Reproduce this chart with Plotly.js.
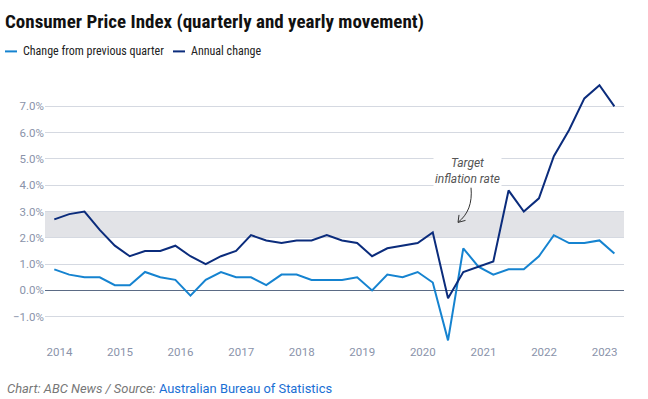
<!DOCTYPE html>
<html>
<head>
<meta charset="utf-8">
<script src="https://cdn.plot.ly/plotly-3.0.1.min.js"></script>
<style>html,body{margin:0;padding:0;background:#fff;}#chart{width:648px;height:399px;}</style>
</head>
<body>
<div id="chart"></div>
<script>
// Quarter dates (Dec 2013 – Mar 2023)
const dates = [
  "2013-12-01","2014-03-01","2014-06-01","2014-09-01","2014-12-01",
  "2015-03-01","2015-06-01","2015-09-01","2015-12-01",
  "2016-03-01","2016-06-01","2016-09-01","2016-12-01",
  "2017-03-01","2017-06-01","2017-09-01","2017-12-01",
  "2018-03-01","2018-06-01","2018-09-01","2018-12-01",
  "2019-03-01","2019-06-01","2019-09-01","2019-12-01",
  "2020-03-01","2020-06-01","2020-09-01","2020-12-01",
  "2021-03-01","2021-06-01","2021-09-01","2021-12-01",
  "2022-03-01","2022-06-01","2022-09-01","2022-12-01",
  "2023-03-01"
];
// Change from previous quarter (%)
const quarterly = [
  0.8, 0.6, 0.5, 0.5, 0.2,
  0.2, 0.7, 0.5, 0.4,
  -0.2, 0.4, 0.7, 0.5,
  0.5, 0.2, 0.6, 0.6,
  0.4, 0.4, 0.4, 0.5,
  0.0, 0.6, 0.5, 0.7,
  0.3, -1.9, 1.6, 0.9,
  0.6, 0.8, 0.8, 1.3,
  2.1, 1.8, 1.8, 1.9,
  1.4
];
// Annual change (%)
const annual = [
  2.7, 2.9, 3.0, 2.3, 1.7,
  1.3, 1.5, 1.5, 1.7,
  1.3, 1.0, 1.3, 1.5,
  2.1, 1.9, 1.8, 1.9,
  1.9, 2.1, 1.9, 1.8,
  1.3, 1.6, 1.7, 1.8,
  2.2, -0.3, 0.7, 0.9,
  1.1, 3.8, 3.0, 3.5,
  5.1, 6.1, 7.3, 7.8,
  7.0
];
const seriesNames = ["Change from previous quarter", "Annual change"];
const yTicks = [-1, 0, 1, 2, 3, 4, 5, 6, 7];
const yTickText = ["\u22121.0%", "0.0%", "1.0%", "2.0%", "3.0%", "4.0%", "5.0%", "6.0%", "7.0%"];
const xTicks = ["2014-01-01","2015-01-01","2016-01-01","2017-01-01","2018-01-01","2019-01-01","2020-01-01","2021-01-01","2022-01-01","2023-01-01"];
const xTickText = ["2014","2015","2016","2017","2018","2019","2020","2021","2022","2023"];
const targetBand = [2, 3];

const C_LIGHT = "#1583d0";
const C_DARK = "#0b2c7c";
const TICK = "#8a93aa";
const FONT = "Roboto, 'Open Sans', sans-serif";
const FONT_C = "'Roboto Condensed', Roboto, sans-serif";

const traces = [
  {x: dates, y: quarterly, name: seriesNames[0], type: "scatter", mode: "lines",
   line: {color: C_LIGHT, width: 2}, hoverinfo: "skip"},
  {x: dates, y: annual, name: seriesNames[1], type: "scatter", mode: "lines",
   line: {color: C_DARK, width: 2}, hoverinfo: "skip"}
];

// pixel helpers for decorations (plot area: l=45, r=624, t=79.6, b=342.6)
const L = 45, R = 624, T = 79.6, B = 342.6;
const px = v => (v - L) / (R - L);
const py = v => (B - v) / (B - T);

const layout = {
  width: 648, height: 399,
  margin: {l: L, r: 648 - R, t: T, b: 399 - B, pad: 0},
  paper_bgcolor: "#fff", plot_bgcolor: "#fff",
  showlegend: false,
  font: {family: FONT, color: TICK, size: 12},
  title: {text: "<b>Consumer Price Index (quarterly and yearly movement)</b>",
          font: {family: FONT_C, size: 19, color: "#111"},
          x: 5/648, xanchor: "left", xref: "container",
          y: 1 - 21/399, yanchor: "middle", yref: "container"},
  xaxis: {type: "date", range: ["2013-10-06", "2023-04-28"],
          tickvals: xTicks, ticktext: xTickText, showgrid: false, zeroline: false,
          showline: false, ticks: "", tickfont: {size: 11.5, color: TICK}},
  yaxis: {range: [-2.0, 8.0], tickvals: yTicks, ticktext: yTickText,
          showgrid: true, gridcolor: "#d5d9e1", gridwidth: 1,
          zeroline: true, zerolinecolor: "#5b6b85", zerolinewidth: 1,
          showline: false, ticks: "", tickfont: {size: 11.5, color: TICK}},
  shapes: [
    {type: "rect", xref: "paper", yref: "y", x0: 0, x1: 1, y0: targetBand[0], y1: targetBand[1],
     fillcolor: "#e2e3e7", line: {width: 0}, layer: "below"},
    {type: "path", xref: "paper", yref: "paper",
     path: `M ${px(471)} ${py(187)} C ${px(472.5)} ${py(203)}, ${px(468)} ${py(214)}, ${px(458)} ${py(222)} M ${px(459)} ${py(214.5)} L ${px(458)} ${py(222)} L ${px(465.5)} ${py(220)}`,
     line: {color: "#333", width: 1}},
    {type: "line", xref: "paper", yref: "paper", x0: px(5), x1: px(17), y0: py(51), y1: py(51),
     line: {color: C_LIGHT, width: 2}},
    {type: "line", xref: "paper", yref: "paper", x0: px(173), x1: px(185), y0: py(51), y1: py(51),
     line: {color: C_DARK, width: 2}}
  ],
  annotations: [
    {xref: "paper", yref: "paper", x: px(467), y: py(171), xanchor: "center", yanchor: "middle",
     text: "<i>Target<br>inflation rate</i>", showarrow: false, bgcolor: "#fff",
     font: {family: FONT, size: 12, color: "#555"}, align: "center"},
    {xref: "paper", yref: "paper", x: px(21), y: py(51), xanchor: "left", yanchor: "middle",
     text: seriesNames[0], showarrow: false, font: {family: FONT_C, size: 12, color: "#222"}},
    {xref: "paper", yref: "paper", x: px(189), y: py(51), xanchor: "left", yanchor: "middle",
     text: seriesNames[1], showarrow: false, font: {family: FONT_C, size: 12, color: "#222"}},
    {xref: "paper", yref: "paper", x: px(5), y: py(388), xanchor: "left", yanchor: "middle",
     text: "<i>Chart: ABC News / Source: </i><span style=\"color:#1a6fd4\">Australian Bureau of Statistics</span>",
     showarrow: false, font: {family: FONT, size: 12.9, color: "#777"}}
  ]
};

Plotly.newPlot("chart", traces, layout, {displayModeBar: false, staticPlot: true});
</script>
</body>
</html>
